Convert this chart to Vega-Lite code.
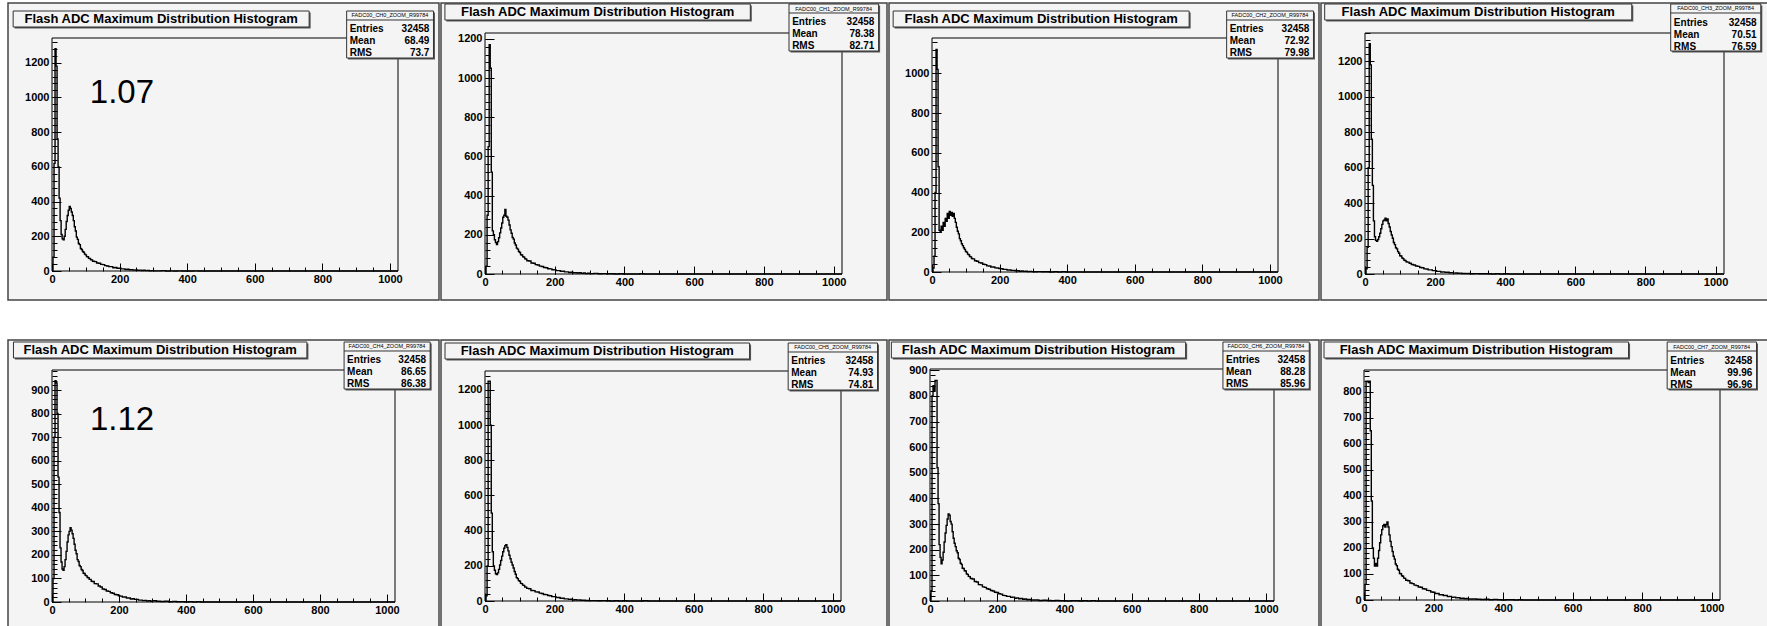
{
"$schema":"https://vega.github.io/schema/vega-lite/v6.json",
"background":"white",
"padding":{"left":7,"top":2,"right":0,"bottom":0},
"config":{"font":"Liberation Sans","view":{"fill":"#f4f4f4","stroke":"#444","strokeWidth":1.5},"axis":{"grid":false,"domain":false,"format":"d","labelFont":"Liberation Sans","labelFontWeight":"bold","labelFontSize":11,"labelColor":"#000","tickColor":"#000","tickWidth":1,"labelOverlap":false},"text":{"font":"Liberation Sans","color":"#000"},"line":{"strokeWidth":1.4}},
"datasets":{
"one":[{}],
"h":[
{"x":0,"a":0,"b":0,"c":0,"d":0,"e":0,"f":0,"g":0,"h":0},
{"x":3,"a":80,"b":40,"c":20,"d":30,"e":100,"f":30,"g":40,"h":60},
{"x":6,"a":620,"b":300,"c":80,"d":150,"e":700,"f":200,"g":800,"h":840},
{"x":9,"a":1280,"b":650,"c":400,"d":600,"e":940,"f":1250,"g":840,"h":840},
{"x":12,"a":1180,"b":1170,"c":1120,"d":1300,"e":930,"f":1250,"g":820,"h":835},
{"x":15,"a":760,"b":1050,"c":1020,"d":1180,"e":800,"f":1000,"g":860,"h":840},
{"x":18,"a":600,"b":520,"c":530,"d":760,"e":530,"f":500,"g":860,"h":650},
{"x":21,"a":420,"b":220,"c":210,"d":500,"e":380,"f":280,"g":520,"h":380},
{"x":24,"a":290,"b":200,"c":200,"d":300,"e":230,"f":200,"g":380,"h":200},
{"x":27,"a":210,"b":175,"c":230,"d":210,"e":170,"f":175,"g":220,"h":160},
{"x":30,"a":185,"b":160,"c":210,"d":190,"e":140,"f":155,"g":170,"h":130},
{"x":33,"a":180,"b":150,"c":250,"d":185,"e":135,"f":150,"g":145,"h":140},
{"x":36,"a":200,"b":165,"c":230,"d":195,"e":150,"f":160,"g":160,"h":130},
{"x":39,"a":240,"b":185,"c":270,"d":210,"e":180,"f":180,"g":190,"h":160},
{"x":42,"a":285,"b":210,"c":255,"d":230,"e":215,"f":205,"g":230,"h":190},
{"x":45,"a":320,"b":235,"c":295,"d":255,"e":255,"f":230,"g":265,"h":220},
{"x":48,"a":350,"b":260,"c":270,"d":280,"e":285,"f":255,"g":295,"h":250},
{"x":51,"a":372,"b":290,"c":305,"d":300,"e":300,"f":280,"g":320,"h":270},
{"x":54,"a":360,"b":300,"c":285,"d":305,"e":315,"f":300,"g":340,"h":285},
{"x":57,"a":340,"b":330,"c":300,"d":315,"e":305,"f":315,"g":335,"h":290},
{"x":60,"a":320,"b":295,"c":280,"d":300,"e":290,"f":320,"g":310,"h":280},
{"x":63,"a":290,"b":290,"c":295,"d":310,"e":270,"f":305,"g":300,"h":290},
{"x":66,"a":255,"b":275,"c":270,"d":285,"e":245,"f":285,"g":270,"h":300},
{"x":69,"a":230,"b":250,"c":250,"d":265,"e":220,"f":260,"g":245,"h":280},
{"x":72,"a":195,"b":225,"c":225,"d":240,"e":205,"f":240,"g":225,"h":250},
{"x":75,"a":182,"b":208,"c":205,"d":220,"e":180,"f":220,"g":212,"h":225},
{"x":78,"a":158,"b":186,"c":192,"d":202,"e":172,"f":205,"g":196,"h":205},
{"x":81,"a":152,"b":178,"c":168,"d":178,"e":155,"f":188,"g":188,"h":186},
{"x":84,"a":130,"b":158,"c":157,"d":166,"e":150,"f":168,"g":167,"h":168},
{"x":87,"a":124,"b":148,"c":142,"d":148,"e":138,"f":152,"g":162,"h":157},
{"x":90,"a":112,"b":132,"c":133,"d":142,"e":134,"f":133,"g":147,"h":138},
{"x":93,"a":108,"b":127,"c":122,"d":126,"e":122,"f":127,"g":143,"h":132},
{"x":96,"a":97,"b":115,"c":114,"d":117,"e":121,"f":116,"g":128,"h":118},
{"x":99,"a":93,"b":110,"c":103,"d":103,"e":113,"f":112,"g":127,"h":114},
{"x":102,"a":83,"b":98,"c":100,"d":102,"e":111,"f":100,"g":118,"h":102},
{"x":105,"a":82,"b":97,"c":90,"d":90,"e":104,"f":99,"g":117,"h":101},
{"x":108,"a":73,"b":88,"c":87,"d":87,"e":103,"f":90,"g":106,"h":93},
{"x":111,"a":72,"b":86,"c":78,"d":78,"e":96,"f":89,"g":104,"h":91},
{"x":114,"a":65,"b":78,"c":76,"d":76,"e":96,"f":80,"g":96,"h":84},
{"x":117,"a":64,"b":76,"c":68,"d":69,"e":88,"f":79,"g":95,"h":83},
{"x":120,"a":56,"b":68,"c":66,"d":67,"e":87,"f":72,"g":88,"h":76},
{"x":126,"a":54,"b":66,"c":57,"d":61,"e":78,"f":70,"g":86,"h":74},
{"x":132,"a":46,"b":56,"c":54,"d":54,"e":77,"f":60,"g":76,"h":65},
{"x":138,"a":45,"b":55,"c":47,"d":51,"e":68,"f":59,"g":74,"h":63},
{"x":144,"a":38,"b":48,"c":45,"d":45,"e":64,"f":52,"g":64,"h":57},
{"x":150,"a":37,"b":46,"c":39,"d":43,"e":55,"f":51,"g":63,"h":55},
{"x":156,"a":31,"b":40,"c":37,"d":37,"e":53,"f":45,"g":55,"h":50},
{"x":162,"a":29,"b":38,"c":31,"d":35,"e":47,"f":43,"g":53,"h":49},
{"x":168,"a":25,"b":33,"c":30,"d":29,"e":45,"f":37,"g":48,"h":43},
{"x":174,"a":25,"b":32,"c":25,"d":28,"e":39,"f":36,"g":46,"h":42},
{"x":180,"a":19,"b":27,"c":25,"d":23,"e":37,"f":31,"g":41,"h":37},
{"x":186,"a":20,"b":26,"c":21,"d":23,"e":32,"f":30,"g":39,"h":36},
{"x":192,"a":16,"b":22,"c":20,"d":19,"e":31,"f":25,"g":34,"h":31},
{"x":198,"a":16,"b":21,"c":17,"d":19,"e":26,"f":25,"g":33,"h":30},
{"x":204,"a":12,"b":17,"c":16,"d":15,"e":25,"f":20,"g":28,"h":25},
{"x":210,"a":12,"b":17,"c":13,"d":15,"e":21,"f":20,"g":27,"h":25},
{"x":216,"a":9,"b":14,"c":13,"d":11,"e":21,"f":16,"g":22,"h":20},
{"x":222,"a":10,"b":14,"c":10,"d":12,"e":17,"f":16,"g":21,"h":20},
{"x":228,"a":7,"b":11,"c":10,"d":9,"e":17,"f":12,"g":18,"h":17},
{"x":234,"a":8,"b":11,"c":8,"d":10,"e":13,"f":12,"g":18,"h":17},
{"x":240,"a":5,"b":8,"c":8,"d":7,"e":14,"f":9,"g":14,"h":13},
{"x":246,"a":6,"b":9,"c":6,"d":8,"e":11,"f":10,"g":15,"h":14},
{"x":252,"a":4,"b":6,"c":6,"d":5,"e":11,"f":6,"g":11,"h":10},
{"x":258,"a":5,"b":7,"c":4,"d":6,"e":8,"f":7,"g":12,"h":11},
{"x":264,"a":3,"b":5,"c":5,"d":4,"e":8,"f":5,"g":9,"h":8},
{"x":270,"a":4,"b":6,"c":3,"d":5,"e":6,"f":6,"g":10,"h":9},
{"x":276,"a":2,"b":3,"c":4,"d":3,"e":7,"f":4,"g":7,"h":6},
{"x":282,"a":3,"b":5,"c":2,"d":3,"e":4,"f":4,"g":8,"h":7},
{"x":288,"a":1,"b":2,"c":3,"d":2,"e":6,"f":3,"g":5,"h":5},
{"x":294,"a":2,"b":4,"c":2,"d":3,"e":3,"f":3,"g":6,"h":6},
{"x":300,"a":1,"b":2,"c":1,"d":1,"e":5,"f":2,"g":4,"h":4},
{"x":312,"a":1,"b":3,"c":2,"d":2,"e":3,"f":2,"g":4,"h":4},
{"x":324,"a":2,"b":1,"c":1,"d":1,"e":2,"f":1,"g":2,"h":3},
{"x":336,"a":0,"b":2,"c":1,"d":1,"e":3,"f":2,"g":3,"h":2},
{"x":348,"a":1,"b":1,"c":0,"d":1,"e":1,"f":1,"g":2,"h":3},
{"x":360,"a":0,"b":1,"c":1,"d":0,"e":2,"f":0,"g":1,"h":1},
{"x":372,"a":1,"b":0,"c":0,"d":1,"e":1,"f":1,"g":2,"h":2},
{"x":384,"a":0,"b":1,"c":1,"d":0,"e":1,"f":0,"g":1,"h":1},
{"x":396,"a":0,"b":0,"c":0,"d":1,"e":0,"f":1,"g":1,"h":0},
{"x":408,"a":0,"b":0,"c":0,"d":0,"e":1,"f":0,"g":0,"h":1},
{"x":420,"a":1,"b":0,"c":0,"d":0,"e":0,"f":0,"g":1,"h":1},
{"x":432,"a":0,"b":0,"c":0,"d":0,"e":1,"f":0,"g":1,"h":0},
{"x":444,"a":0,"b":1,"c":0,"d":0,"e":0,"f":0,"g":0,"h":1},
{"x":456,"a":0,"b":0,"c":0,"d":0,"e":0,"f":1,"g":1,"h":0},
{"x":468,"a":0,"b":0,"c":0,"d":0,"e":0,"f":0,"g":0,"h":0},
{"x":480,"a":0,"b":0,"c":0,"d":0,"e":0,"f":0,"g":1,"h":0},
{"x":492,"a":0,"b":0,"c":0,"d":0,"e":0,"f":0,"g":0,"h":0},
{"x":1024,"a":0,"b":0,"c":0,"d":0,"e":0,"f":0,"g":0,"h":0}
]},
"spacing":38,
"vconcat":[
{"spacing":2,"bounds":"flush","hconcat":[
{"width":431,"height":297,"resolve":{"axis":{"x":"independent","y":"independent"}},"layer":[
{"data":{"name":"one"},"mark":{"type":"rect","filled":false,"stroke":"#000","strokeWidth":1},"encoding":{
"x":{"datum":0,"type":"quantitative","scale":{"domain":[0,1024],"range":[44,390],"nice":false,"zero":false},"axis":{"orient":"bottom","offset":-29,"values":[0,200,400,600,800,1000],"tickSize":-8,"labels":false,"title":null}},
"x2":{"datum":1024},
"y":{"datum":0,"type":"quantitative","scale":{"domain":[0,1342],"range":[268,35],"nice":false,"zero":false},"axis":{"orient":"left","offset":-44,"values":[0,200,400,600,800,1000,1200],"tickSize":-9,"labels":false,"title":null}},
"y2":{"datum":1342}}},
{"data":{"name":"h"},"mark":{"type":"line","interpolate":"step-after","color":"#000"},"encoding":{
"x":{"field":"x","type":"quantitative","scale":{"domain":[0,1024],"range":[44,390],"nice":false,"zero":false},"axis":{"orient":"bottom","offset":-29,"values":[0,200,400,600,800,1000],"ticks":false,"labelPadding":2,"labelFlush":false,"title":null}},
"y":{"field":"a","type":"quantitative","scale":{"domain":[0,1342],"range":[268,35],"nice":false,"zero":false},"axis":{"orient":"left","offset":-44,"values":[0,200,400,600,800,1000,1200],"ticks":false,"labelPadding":3,"title":null}}}},
{"data":{"name":"one"},"mark":{"type":"rect","color":"#555","xOffset":1.5,"x2Offset":1.5,"yOffset":1.5,"y2Offset":1.5},"encoding":{
"x":{"datum":-115,"type":"quantitative","axis":{"orient":"bottom","offset":-29,"values":[0,50,100,150,200,250,300,350,400,450,500,550,600,650,700,750,800,850,900,950,1000],"tickSize":-4,"labels":false,"title":null}},
"x2":{"datum":761},
"y":{"datum":1497.5,"type":"quantitative","axis":{"orient":"left","offset":-44,"values":[0,40,80,120,160,200,240,280,320,360,400,440,480,520,560,600,640,680,720,760,800,840,880,920,960,1000,1040,1080,1120,1160,1200,1240,1280,1320],"tickSize":-5,"labels":false,"title":null}},
"y2":{"datum":1405.4}}},
{"data":{"name":"one"},"mark":{"type":"rect","fill":"#f4f4f4","stroke":"#333","strokeWidth":1},"encoding":{"x":{"datum":-115,"type":"quantitative","axis":null},"x2":{"datum":761},"y":{"datum":1497.5,"type":"quantitative","axis":null},"y2":{"datum":1405.4}}},
{"data":{"name":"one"},"mark":{"type":"text","fontWeight":"bold","fontSize":13},"encoding":{"x":{"datum":323,"type":"quantitative","axis":null},"y":{"datum":1451.4,"type":"quantitative","axis":null},"text":{"value":"Flash ADC Maximum Distribution Histogram"}}},
{"data":{"name":"one"},"mark":{"type":"rect","color":"#555","xOffset":1.5,"x2Offset":1.5,"yOffset":1.5,"y2Offset":1.5},"encoding":{"x":{"datum":872,"type":"quantitative","axis":null},"x2":{"datum":1129},"y":{"datum":1497.5,"type":"quantitative","axis":null},"y2":{"datum":1226.8}}},
{"data":{"name":"one"},"mark":{"type":"rect","fill":"#f4f4f4","stroke":"#333","strokeWidth":1},"encoding":{"x":{"datum":872,"type":"quantitative","axis":null},"x2":{"datum":1129},"y":{"datum":1497.5,"type":"quantitative","axis":null},"y2":{"datum":1226.8}}},
{"data":{"name":"one"},"mark":{"type":"rule","color":"#333","strokeWidth":1},"encoding":{"x":{"datum":872,"type":"quantitative","axis":null},"x2":{"datum":1129},"y":{"datum":1445.7,"type":"quantitative","axis":null}}},
{"data":{"name":"one"},"mark":{"type":"text","fontSize":5.5},"encoding":{"x":{"datum":1000,"type":"quantitative","axis":null},"y":{"datum":1471.6,"type":"quantitative","axis":null},"text":{"value":"FADC00_CH0_ZOOM_R99784"}}},
{"data":{"name":"one"},"mark":{"type":"text","fontWeight":"bold","fontSize":10,"align":"left","baseline":"alphabetic","lineHeight":12},"encoding":{"x":{"datum":881,"type":"quantitative","axis":null},"y":{"datum":1373.7,"type":"quantitative","axis":null},"text":{"value":["Entries","Mean","RMS"]}}},
{"data":{"name":"one"},"mark":{"type":"text","fontWeight":"bold","fontSize":10,"align":"right","baseline":"alphabetic","lineHeight":12},"encoding":{"x":{"datum":1117,"type":"quantitative","axis":null},"y":{"datum":1373.7,"type":"quantitative","axis":null},"text":{"value":["32458","68.49","73.7"]}}},
{"data":{"name":"one"},"mark":{"type":"text","fontSize":33,"align":"center","baseline":"alphabetic"},"encoding":{"x":{"datum":207,"type":"quantitative","axis":null},"y":{"datum":967.6,"type":"quantitative","axis":null},"text":{"value":"1.07"}}}
]},
{"width":446,"height":297,"resolve":{"axis":{"x":"independent","y":"independent"}},"layer":[
{"data":{"name":"one"},"mark":{"type":"rect","filled":false,"stroke":"#000","strokeWidth":1},"encoding":{
"x":{"datum":0,"type":"quantitative","scale":{"domain":[0,1024],"range":[44,401],"nice":false,"zero":false},"axis":{"orient":"bottom","offset":-26,"values":[0,200,400,600,800,1000],"tickSize":-8,"labels":false,"title":null}},
"x2":{"datum":1024},
"y":{"datum":0,"type":"quantitative","scale":{"domain":[0,1230],"range":[271,30],"nice":false,"zero":false},"axis":{"orient":"left","offset":-44,"values":[0,200,400,600,800,1000,1200],"tickSize":-9,"labels":false,"title":null}},
"y2":{"datum":1230}}},
{"data":{"name":"h"},"mark":{"type":"line","interpolate":"step-after","color":"#000"},"encoding":{
"x":{"field":"x","type":"quantitative","scale":{"domain":[0,1024],"range":[44,401],"nice":false,"zero":false},"axis":{"orient":"bottom","offset":-26,"values":[0,200,400,600,800,1000],"ticks":false,"labelPadding":2,"labelFlush":false,"title":null}},
"y":{"field":"b","type":"quantitative","scale":{"domain":[0,1230],"range":[271,30],"nice":false,"zero":false},"axis":{"orient":"left","offset":-44,"values":[0,200,400,600,800,1000,1200],"ticks":false,"labelPadding":3,"title":null}}}},
{"data":{"name":"one"},"mark":{"type":"rect","color":"#555","xOffset":1.5,"x2Offset":1.5,"yOffset":1.5,"y2Offset":1.5},"encoding":{
"x":{"datum":-115,"type":"quantitative","axis":{"orient":"bottom","offset":-26,"values":[0,50,100,150,200,250,300,350,400,450,500,550,600,650,700,750,800,850,900,950,1000],"tickSize":-4,"labels":false,"title":null}},
"x2":{"datum":761},
"y":{"datum":1378.0,"type":"quantitative","axis":{"orient":"left","offset":-44,"values":[0,40,80,120,160,200,240,280,320,360,400,440,480,520,560,600,640,680,720,760,800,840,880,920,960,1000,1040,1080,1120,1160,1200],"tickSize":-5,"labels":false,"title":null}},
"y2":{"datum":1296.3}}},
{"data":{"name":"one"},"mark":{"type":"rect","fill":"#f4f4f4","stroke":"#333","strokeWidth":1},"encoding":{"x":{"datum":-115,"type":"quantitative","axis":null},"x2":{"datum":761},"y":{"datum":1378.0,"type":"quantitative","axis":null},"y2":{"datum":1296.3}}},
{"data":{"name":"one"},"mark":{"type":"text","fontWeight":"bold","fontSize":13},"encoding":{"x":{"datum":323,"type":"quantitative","axis":null},"y":{"datum":1337.2,"type":"quantitative","axis":null},"text":{"value":"Flash ADC Maximum Distribution Histogram"}}},
{"data":{"name":"one"},"mark":{"type":"rect","color":"#555","xOffset":1.5,"x2Offset":1.5,"yOffset":1.5,"y2Offset":1.5},"encoding":{"x":{"datum":872,"type":"quantitative","axis":null},"x2":{"datum":1129},"y":{"datum":1378.0,"type":"quantitative","axis":null},"y2":{"datum":1138.1}}},
{"data":{"name":"one"},"mark":{"type":"rect","fill":"#f4f4f4","stroke":"#333","strokeWidth":1},"encoding":{"x":{"datum":872,"type":"quantitative","axis":null},"x2":{"datum":1129},"y":{"datum":1378.0,"type":"quantitative","axis":null},"y2":{"datum":1138.1}}},
{"data":{"name":"one"},"mark":{"type":"rule","color":"#333","strokeWidth":1},"encoding":{"x":{"datum":872,"type":"quantitative","axis":null},"x2":{"datum":1129},"y":{"datum":1332.1,"type":"quantitative","axis":null}}},
{"data":{"name":"one"},"mark":{"type":"text","fontSize":5.5},"encoding":{"x":{"datum":1000,"type":"quantitative","axis":null},"y":{"datum":1355.0,"type":"quantitative","axis":null},"text":{"value":"FADC00_CH1_ZOOM_R99784"}}},
{"data":{"name":"one"},"mark":{"type":"text","fontWeight":"bold","fontSize":10,"align":"left","baseline":"alphabetic","lineHeight":12},"encoding":{"x":{"datum":881,"type":"quantitative","axis":null},"y":{"datum":1268.3,"type":"quantitative","axis":null},"text":{"value":["Entries","Mean","RMS"]}}},
{"data":{"name":"one"},"mark":{"type":"text","fontWeight":"bold","fontSize":10,"align":"right","baseline":"alphabetic","lineHeight":12},"encoding":{"x":{"datum":1117,"type":"quantitative","axis":null},"y":{"datum":1268.3,"type":"quantitative","axis":null},"text":{"value":["32458","78.38","82.71"]}}}
]},
{"width":430,"height":297,"resolve":{"axis":{"x":"independent","y":"independent"}},"layer":[
{"data":{"name":"one"},"mark":{"type":"rect","filled":false,"stroke":"#000","strokeWidth":1},"encoding":{
"x":{"datum":0,"type":"quantitative","scale":{"domain":[0,1024],"range":[43,389],"nice":false,"zero":false},"axis":{"orient":"bottom","offset":-28,"values":[0,200,400,600,800,1000],"tickSize":-8,"labels":false,"title":null}},
"x2":{"datum":1024},
"y":{"datum":0,"type":"quantitative","scale":{"domain":[0,1178],"range":[269,35],"nice":false,"zero":false},"axis":{"orient":"left","offset":-43,"values":[0,200,400,600,800,1000],"tickSize":-9,"labels":false,"title":null}},
"y2":{"datum":1178}}},
{"data":{"name":"h"},"mark":{"type":"line","interpolate":"step-after","color":"#000"},"encoding":{
"x":{"field":"x","type":"quantitative","scale":{"domain":[0,1024],"range":[43,389],"nice":false,"zero":false},"axis":{"orient":"bottom","offset":-28,"values":[0,200,400,600,800,1000],"ticks":false,"labelPadding":2,"labelFlush":false,"title":null}},
"y":{"field":"c","type":"quantitative","scale":{"domain":[0,1178],"range":[269,35],"nice":false,"zero":false},"axis":{"orient":"left","offset":-43,"values":[0,200,400,600,800,1000],"ticks":false,"labelPadding":3,"title":null}}}},
{"data":{"name":"one"},"mark":{"type":"rect","color":"#555","xOffset":1.5,"x2Offset":1.5,"yOffset":1.5,"y2Offset":1.5},"encoding":{
"x":{"datum":-115,"type":"quantitative","axis":{"orient":"bottom","offset":-28,"values":[0,50,100,150,200,250,300,350,400,450,500,550,600,650,700,750,800,850,900,950,1000],"tickSize":-4,"labels":false,"title":null}},
"x2":{"datum":761},
"y":{"datum":1313.9,"type":"quantitative","axis":{"orient":"left","offset":-43,"values":[0,40,80,120,160,200,240,280,320,360,400,440,480,520,560,600,640,680,720,760,800,840,880,920,960,1000,1040,1080,1120,1160],"tickSize":-5,"labels":false,"title":null}},
"y2":{"datum":1233.4}}},
{"data":{"name":"one"},"mark":{"type":"rect","fill":"#f4f4f4","stroke":"#333","strokeWidth":1},"encoding":{"x":{"datum":-115,"type":"quantitative","axis":null},"x2":{"datum":761},"y":{"datum":1313.9,"type":"quantitative","axis":null},"y2":{"datum":1233.4}}},
{"data":{"name":"one"},"mark":{"type":"text","fontWeight":"bold","fontSize":13},"encoding":{"x":{"datum":323,"type":"quantitative","axis":null},"y":{"datum":1273.6,"type":"quantitative","axis":null},"text":{"value":"Flash ADC Maximum Distribution Histogram"}}},
{"data":{"name":"one"},"mark":{"type":"rect","color":"#555","xOffset":1.5,"x2Offset":1.5,"yOffset":1.5,"y2Offset":1.5},"encoding":{"x":{"datum":872,"type":"quantitative","axis":null},"x2":{"datum":1129},"y":{"datum":1313.9,"type":"quantitative","axis":null},"y2":{"datum":1077.3}}},
{"data":{"name":"one"},"mark":{"type":"rect","fill":"#f4f4f4","stroke":"#333","strokeWidth":1},"encoding":{"x":{"datum":872,"type":"quantitative","axis":null},"x2":{"datum":1129},"y":{"datum":1313.9,"type":"quantitative","axis":null},"y2":{"datum":1077.3}}},
{"data":{"name":"one"},"mark":{"type":"rule","color":"#333","strokeWidth":1},"encoding":{"x":{"datum":872,"type":"quantitative","axis":null},"x2":{"datum":1129},"y":{"datum":1268.6,"type":"quantitative","axis":null}}},
{"data":{"name":"one"},"mark":{"type":"text","fontSize":5.5},"encoding":{"x":{"datum":1000,"type":"quantitative","axis":null},"y":{"datum":1291.3,"type":"quantitative","axis":null},"text":{"value":"FADC00_CH2_ZOOM_R99784"}}},
{"data":{"name":"one"},"mark":{"type":"text","fontWeight":"bold","fontSize":10,"align":"left","baseline":"alphabetic","lineHeight":12},"encoding":{"x":{"datum":881,"type":"quantitative","axis":null},"y":{"datum":1205.7,"type":"quantitative","axis":null},"text":{"value":["Entries","Mean","RMS"]}}},
{"data":{"name":"one"},"mark":{"type":"text","fontWeight":"bold","fontSize":10,"align":"right","baseline":"alphabetic","lineHeight":12},"encoding":{"x":{"datum":1117,"type":"quantitative","axis":null},"y":{"datum":1205.7,"type":"quantitative","axis":null},"text":{"value":["32458","72.92","79.98"]}}}
]},
{"width":447,"height":297,"resolve":{"axis":{"x":"independent","y":"independent"}},"layer":[
{"data":{"name":"one"},"mark":{"type":"rect","filled":false,"stroke":"#000","strokeWidth":1},"encoding":{
"x":{"datum":0,"type":"quantitative","scale":{"domain":[0,1024],"range":[44,403],"nice":false,"zero":false},"axis":{"orient":"bottom","offset":-26,"values":[0,200,400,600,800,1000],"tickSize":-8,"labels":false,"title":null}},
"x2":{"datum":1024},
"y":{"datum":0,"type":"quantitative","scale":{"domain":[0,1360],"range":[271,30],"nice":false,"zero":false},"axis":{"orient":"left","offset":-44,"values":[0,200,400,600,800,1000,1200],"tickSize":-9,"labels":false,"title":null}},
"y2":{"datum":1360}}},
{"data":{"name":"h"},"mark":{"type":"line","interpolate":"step-after","color":"#000"},"encoding":{
"x":{"field":"x","type":"quantitative","scale":{"domain":[0,1024],"range":[44,403],"nice":false,"zero":false},"axis":{"orient":"bottom","offset":-26,"values":[0,200,400,600,800,1000],"ticks":false,"labelPadding":2,"labelFlush":false,"title":null}},
"y":{"field":"d","type":"quantitative","scale":{"domain":[0,1360],"range":[271,30],"nice":false,"zero":false},"axis":{"orient":"left","offset":-44,"values":[0,200,400,600,800,1000,1200],"ticks":false,"labelPadding":3,"title":null}}}},
{"data":{"name":"one"},"mark":{"type":"rect","color":"#555","xOffset":1.5,"x2Offset":1.5,"yOffset":1.5,"y2Offset":1.5},"encoding":{
"x":{"datum":-115,"type":"quantitative","axis":{"orient":"bottom","offset":-26,"values":[0,50,100,150,200,250,300,350,400,450,500,550,600,650,700,750,800,850,900,950,1000],"tickSize":-4,"labels":false,"title":null}},
"x2":{"datum":761},
"y":{"datum":1523.7,"type":"quantitative","axis":{"orient":"left","offset":-44,"values":[0,40,80,120,160,200,240,280,320,360,400,440,480,520,560,600,640,680,720,760,800,840,880,920,960,1000,1040,1080,1120,1160,1200,1240,1280,1320,1360],"tickSize":-5,"labels":false,"title":null}},
"y2":{"datum":1433.4}}},
{"data":{"name":"one"},"mark":{"type":"rect","fill":"#f4f4f4","stroke":"#333","strokeWidth":1},"encoding":{"x":{"datum":-115,"type":"quantitative","axis":null},"x2":{"datum":761},"y":{"datum":1523.7,"type":"quantitative","axis":null},"y2":{"datum":1433.4}}},
{"data":{"name":"one"},"mark":{"type":"text","fontWeight":"bold","fontSize":13},"encoding":{"x":{"datum":323,"type":"quantitative","axis":null},"y":{"datum":1478.5,"type":"quantitative","axis":null},"text":{"value":"Flash ADC Maximum Distribution Histogram"}}},
{"data":{"name":"one"},"mark":{"type":"rect","color":"#555","xOffset":1.5,"x2Offset":1.5,"yOffset":1.5,"y2Offset":1.5},"encoding":{"x":{"datum":872,"type":"quantitative","axis":null},"x2":{"datum":1129},"y":{"datum":1523.7,"type":"quantitative","axis":null},"y2":{"datum":1258.4}}},
{"data":{"name":"one"},"mark":{"type":"rect","fill":"#f4f4f4","stroke":"#333","strokeWidth":1},"encoding":{"x":{"datum":872,"type":"quantitative","axis":null},"x2":{"datum":1129},"y":{"datum":1523.7,"type":"quantitative","axis":null},"y2":{"datum":1258.4}}},
{"data":{"name":"one"},"mark":{"type":"rule","color":"#333","strokeWidth":1},"encoding":{"x":{"datum":872,"type":"quantitative","axis":null},"x2":{"datum":1129},"y":{"datum":1472.9,"type":"quantitative","axis":null}}},
{"data":{"name":"one"},"mark":{"type":"text","fontSize":5.5},"encoding":{"x":{"datum":1000,"type":"quantitative","axis":null},"y":{"datum":1498.3,"type":"quantitative","axis":null},"text":{"value":"FADC00_CH3_ZOOM_R99784"}}},
{"data":{"name":"one"},"mark":{"type":"text","fontWeight":"bold","fontSize":10,"align":"left","baseline":"alphabetic","lineHeight":12},"encoding":{"x":{"datum":881,"type":"quantitative","axis":null},"y":{"datum":1402.3,"type":"quantitative","axis":null},"text":{"value":["Entries","Mean","RMS"]}}},
{"data":{"name":"one"},"mark":{"type":"text","fontWeight":"bold","fontSize":10,"align":"right","baseline":"alphabetic","lineHeight":12},"encoding":{"x":{"datum":1117,"type":"quantitative","axis":null},"y":{"datum":1402.3,"type":"quantitative","axis":null},"text":{"value":["32458","70.51","76.59"]}}}
]}
]},
{"spacing":2,"bounds":"flush","hconcat":[
{"width":431,"height":289,"resolve":{"axis":{"x":"independent","y":"independent"}},"layer":[
{"data":{"name":"one"},"mark":{"type":"rect","filled":false,"stroke":"#000","strokeWidth":1},"encoding":{
"x":{"datum":0,"type":"quantitative","scale":{"domain":[0,1024],"range":[44,387],"nice":false,"zero":false},"axis":{"orient":"bottom","offset":-27,"values":[0,200,400,600,800,1000],"tickSize":-8,"labels":false,"title":null}},
"x2":{"datum":1024},
"y":{"datum":0,"type":"quantitative","scale":{"domain":[0,985],"range":[262,30],"nice":false,"zero":false},"axis":{"orient":"left","offset":-44,"values":[0,100,200,300,400,500,600,700,800,900],"tickSize":-9,"labels":false,"title":null}},
"y2":{"datum":985}}},
{"data":{"name":"h"},"mark":{"type":"line","interpolate":"step-after","color":"#000"},"encoding":{
"x":{"field":"x","type":"quantitative","scale":{"domain":[0,1024],"range":[44,387],"nice":false,"zero":false},"axis":{"orient":"bottom","offset":-27,"values":[0,200,400,600,800,1000],"ticks":false,"labelPadding":2,"labelFlush":false,"title":null}},
"y":{"field":"e","type":"quantitative","scale":{"domain":[0,985],"range":[262,30],"nice":false,"zero":false},"axis":{"orient":"left","offset":-44,"values":[0,100,200,300,400,500,600,700,800,900],"ticks":false,"labelPadding":3,"title":null}}}},
{"data":{"name":"one"},"mark":{"type":"rect","color":"#555","xOffset":1.5,"x2Offset":1.5,"yOffset":1.5,"y2Offset":1.5},"encoding":{
"x":{"datum":-115,"type":"quantitative","axis":{"orient":"bottom","offset":-27,"values":[0,50,100,150,200,250,300,350,400,450,500,550,600,650,700,750,800,850,900,950,1000],"tickSize":-4,"labels":false,"title":null}},
"x2":{"datum":761},
"y":{"datum":1103.9,"type":"quantitative","axis":{"orient":"left","offset":-44,"values":[0,20,40,60,80,100,120,140,160,180,200,220,240,260,280,300,320,340,360,380,400,420,440,460,480,500,520,540,560,580,600,620,640,660,680,700,720,740,760,780,800,820,840,860,880,900,920,940,960,980],"tickSize":-5,"labels":false,"title":null}},
"y2":{"datum":1035.9}}},
{"data":{"name":"one"},"mark":{"type":"rect","fill":"#f4f4f4","stroke":"#333","strokeWidth":1},"encoding":{"x":{"datum":-115,"type":"quantitative","axis":null},"x2":{"datum":761},"y":{"datum":1103.9,"type":"quantitative","axis":null},"y2":{"datum":1035.9}}},
{"data":{"name":"one"},"mark":{"type":"text","fontWeight":"bold","fontSize":13},"encoding":{"x":{"datum":323,"type":"quantitative","axis":null},"y":{"datum":1069.9,"type":"quantitative","axis":null},"text":{"value":"Flash ADC Maximum Distribution Histogram"}}},
{"data":{"name":"one"},"mark":{"type":"rect","color":"#555","xOffset":1.5,"x2Offset":1.5,"yOffset":1.5,"y2Offset":1.5},"encoding":{"x":{"datum":872,"type":"quantitative","axis":null},"x2":{"datum":1129},"y":{"datum":1103.9,"type":"quantitative","axis":null},"y2":{"datum":904.3}}},
{"data":{"name":"one"},"mark":{"type":"rect","fill":"#f4f4f4","stroke":"#333","strokeWidth":1},"encoding":{"x":{"datum":872,"type":"quantitative","axis":null},"x2":{"datum":1129},"y":{"datum":1103.9,"type":"quantitative","axis":null},"y2":{"datum":904.3}}},
{"data":{"name":"one"},"mark":{"type":"rule","color":"#333","strokeWidth":1},"encoding":{"x":{"datum":872,"type":"quantitative","axis":null},"x2":{"datum":1129},"y":{"datum":1065.7,"type":"quantitative","axis":null}}},
{"data":{"name":"one"},"mark":{"type":"text","fontSize":5.5},"encoding":{"x":{"datum":1000,"type":"quantitative","axis":null},"y":{"datum":1084.8,"type":"quantitative","axis":null},"text":{"value":"FADC00_CH4_ZOOM_R99784"}}},
{"data":{"name":"one"},"mark":{"type":"text","fontWeight":"bold","fontSize":10,"align":"left","baseline":"alphabetic","lineHeight":12},"encoding":{"x":{"datum":881,"type":"quantitative","axis":null},"y":{"datum":1012.6,"type":"quantitative","axis":null},"text":{"value":["Entries","Mean","RMS"]}}},
{"data":{"name":"one"},"mark":{"type":"text","fontWeight":"bold","fontSize":10,"align":"right","baseline":"alphabetic","lineHeight":12},"encoding":{"x":{"datum":1117,"type":"quantitative","axis":null},"y":{"datum":1012.6,"type":"quantitative","axis":null},"text":{"value":["32458","86.65","86.38"]}}},
{"data":{"name":"one"},"mark":{"type":"text","fontSize":33,"align":"center","baseline":"alphabetic"},"encoding":{"x":{"datum":209,"type":"quantitative","axis":null},"y":{"datum":730.3,"type":"quantitative","axis":null},"text":{"value":"1.12"}}}
]},
{"width":446,"height":289,"resolve":{"axis":{"x":"independent","y":"independent"}},"layer":[
{"data":{"name":"one"},"mark":{"type":"rect","filled":false,"stroke":"#000","strokeWidth":1},"encoding":{
"x":{"datum":0,"type":"quantitative","scale":{"domain":[0,1024],"range":[44,400],"nice":false,"zero":false},"axis":{"orient":"bottom","offset":-28,"values":[0,200,400,600,800,1000],"tickSize":-8,"labels":false,"title":null}},
"x2":{"datum":1024},
"y":{"datum":0,"type":"quantitative","scale":{"domain":[0,1308],"range":[261,31],"nice":false,"zero":false},"axis":{"orient":"left","offset":-44,"values":[0,200,400,600,800,1000,1200],"tickSize":-9,"labels":false,"title":null}},
"y2":{"datum":1308}}},
{"data":{"name":"h"},"mark":{"type":"line","interpolate":"step-after","color":"#000"},"encoding":{
"x":{"field":"x","type":"quantitative","scale":{"domain":[0,1024],"range":[44,400],"nice":false,"zero":false},"axis":{"orient":"bottom","offset":-28,"values":[0,200,400,600,800,1000],"ticks":false,"labelPadding":2,"labelFlush":false,"title":null}},
"y":{"field":"f","type":"quantitative","scale":{"domain":[0,1308],"range":[261,31],"nice":false,"zero":false},"axis":{"orient":"left","offset":-44,"values":[0,200,400,600,800,1000,1200],"ticks":false,"labelPadding":3,"title":null}}}},
{"data":{"name":"one"},"mark":{"type":"rect","color":"#555","xOffset":1.5,"x2Offset":1.5,"yOffset":1.5,"y2Offset":1.5},"encoding":{
"x":{"datum":-115,"type":"quantitative","axis":{"orient":"bottom","offset":-28,"values":[0,50,100,150,200,250,300,350,400,450,500,550,600,650,700,750,800,850,900,950,1000],"tickSize":-4,"labels":false,"title":null}},
"x2":{"datum":761},
"y":{"datum":1467.2,"type":"quantitative","axis":{"orient":"left","offset":-44,"values":[0,40,80,120,160,200,240,280,320,360,400,440,480,520,560,600,640,680,720,760,800,840,880,920,960,1000,1040,1080,1120,1160,1200,1240,1280],"tickSize":-5,"labels":false,"title":null}},
"y2":{"datum":1376.2}}},
{"data":{"name":"one"},"mark":{"type":"rect","fill":"#f4f4f4","stroke":"#333","strokeWidth":1},"encoding":{"x":{"datum":-115,"type":"quantitative","axis":null},"x2":{"datum":761},"y":{"datum":1467.2,"type":"quantitative","axis":null},"y2":{"datum":1376.2}}},
{"data":{"name":"one"},"mark":{"type":"text","fontWeight":"bold","fontSize":13},"encoding":{"x":{"datum":323,"type":"quantitative","axis":null},"y":{"datum":1421.7,"type":"quantitative","axis":null},"text":{"value":"Flash ADC Maximum Distribution Histogram"}}},
{"data":{"name":"one"},"mark":{"type":"rect","color":"#555","xOffset":1.5,"x2Offset":1.5,"yOffset":1.5,"y2Offset":1.5},"encoding":{"x":{"datum":872,"type":"quantitative","axis":null},"x2":{"datum":1129},"y":{"datum":1467.2,"type":"quantitative","axis":null},"y2":{"datum":1199.9}}},
{"data":{"name":"one"},"mark":{"type":"rect","fill":"#f4f4f4","stroke":"#333","strokeWidth":1},"encoding":{"x":{"datum":872,"type":"quantitative","axis":null},"x2":{"datum":1129},"y":{"datum":1467.2,"type":"quantitative","axis":null},"y2":{"datum":1199.9}}},
{"data":{"name":"one"},"mark":{"type":"rule","color":"#333","strokeWidth":1},"encoding":{"x":{"datum":872,"type":"quantitative","axis":null},"x2":{"datum":1129},"y":{"datum":1416.1,"type":"quantitative","axis":null}}},
{"data":{"name":"one"},"mark":{"type":"text","fontSize":5.5},"encoding":{"x":{"datum":1000,"type":"quantitative","axis":null},"y":{"datum":1441.7,"type":"quantitative","axis":null},"text":{"value":"FADC00_CH5_ZOOM_R99784"}}},
{"data":{"name":"one"},"mark":{"type":"text","fontWeight":"bold","fontSize":10,"align":"left","baseline":"alphabetic","lineHeight":12},"encoding":{"x":{"datum":881,"type":"quantitative","axis":null},"y":{"datum":1345.0,"type":"quantitative","axis":null},"text":{"value":["Entries","Mean","RMS"]}}},
{"data":{"name":"one"},"mark":{"type":"text","fontWeight":"bold","fontSize":10,"align":"right","baseline":"alphabetic","lineHeight":12},"encoding":{"x":{"datum":1117,"type":"quantitative","axis":null},"y":{"datum":1345.0,"type":"quantitative","axis":null},"text":{"value":["32458","74.93","74.81"]}}}
]},
{"width":430,"height":289,"resolve":{"axis":{"x":"independent","y":"independent"}},"layer":[
{"data":{"name":"one"},"mark":{"type":"rect","filled":false,"stroke":"#000","strokeWidth":1},"encoding":{
"x":{"datum":0,"type":"quantitative","scale":{"domain":[0,1024],"range":[41,385],"nice":false,"zero":false},"axis":{"orient":"bottom","offset":-28,"values":[0,200,400,600,800,1000],"tickSize":-8,"labels":false,"title":null}},
"x2":{"datum":1024},
"y":{"datum":0,"type":"quantitative","scale":{"domain":[0,905],"range":[261,29],"nice":false,"zero":false},"axis":{"orient":"left","offset":-41,"values":[0,100,200,300,400,500,600,700,800,900],"tickSize":-9,"labels":false,"title":null}},
"y2":{"datum":905}}},
{"data":{"name":"h"},"mark":{"type":"line","interpolate":"step-after","color":"#000"},"encoding":{
"x":{"field":"x","type":"quantitative","scale":{"domain":[0,1024],"range":[41,385],"nice":false,"zero":false},"axis":{"orient":"bottom","offset":-28,"values":[0,200,400,600,800,1000],"ticks":false,"labelPadding":2,"labelFlush":false,"title":null}},
"y":{"field":"g","type":"quantitative","scale":{"domain":[0,905],"range":[261,29],"nice":false,"zero":false},"axis":{"orient":"left","offset":-41,"values":[0,100,200,300,400,500,600,700,800,900],"ticks":false,"labelPadding":3,"title":null}}}},
{"data":{"name":"one"},"mark":{"type":"rect","color":"#555","xOffset":1.5,"x2Offset":1.5,"yOffset":1.5,"y2Offset":1.5},"encoding":{
"x":{"datum":-115,"type":"quantitative","axis":{"orient":"bottom","offset":-28,"values":[0,50,100,150,200,250,300,350,400,450,500,550,600,650,700,750,800,850,900,950,1000],"tickSize":-4,"labels":false,"title":null}},
"x2":{"datum":761},
"y":{"datum":1010.3,"type":"quantitative","axis":{"orient":"left","offset":-41,"values":[0,20,40,60,80,100,120,140,160,180,200,220,240,260,280,300,320,340,360,380,400,420,440,460,480,500,520,540,560,580,600,620,640,660,680,700,720,740,760,780,800,820,840,860,880,900],"tickSize":-5,"labels":false,"title":null}},
"y2":{"datum":947.9}}},
{"data":{"name":"one"},"mark":{"type":"rect","fill":"#f4f4f4","stroke":"#333","strokeWidth":1},"encoding":{"x":{"datum":-115,"type":"quantitative","axis":null},"x2":{"datum":761},"y":{"datum":1010.3,"type":"quantitative","axis":null},"y2":{"datum":947.9}}},
{"data":{"name":"one"},"mark":{"type":"text","fontWeight":"bold","fontSize":13},"encoding":{"x":{"datum":323,"type":"quantitative","axis":null},"y":{"datum":979.1,"type":"quantitative","axis":null},"text":{"value":"Flash ADC Maximum Distribution Histogram"}}},
{"data":{"name":"one"},"mark":{"type":"rect","color":"#555","xOffset":1.5,"x2Offset":1.5,"yOffset":1.5,"y2Offset":1.5},"encoding":{"x":{"datum":872,"type":"quantitative","axis":null},"x2":{"datum":1129},"y":{"datum":1010.3,"type":"quantitative","axis":null},"y2":{"datum":827.0}}},
{"data":{"name":"one"},"mark":{"type":"rect","fill":"#f4f4f4","stroke":"#333","strokeWidth":1},"encoding":{"x":{"datum":872,"type":"quantitative","axis":null},"x2":{"datum":1129},"y":{"datum":1010.3,"type":"quantitative","axis":null},"y2":{"datum":827.0}}},
{"data":{"name":"one"},"mark":{"type":"rule","color":"#333","strokeWidth":1},"encoding":{"x":{"datum":872,"type":"quantitative","axis":null},"x2":{"datum":1129},"y":{"datum":975.2,"type":"quantitative","axis":null}}},
{"data":{"name":"one"},"mark":{"type":"text","fontSize":5.5},"encoding":{"x":{"datum":1000,"type":"quantitative","axis":null},"y":{"datum":992.8,"type":"quantitative","axis":null},"text":{"value":"FADC00_CH6_ZOOM_R99784"}}},
{"data":{"name":"one"},"mark":{"type":"text","fontWeight":"bold","fontSize":10,"align":"left","baseline":"alphabetic","lineHeight":12},"encoding":{"x":{"datum":881,"type":"quantitative","axis":null},"y":{"datum":926.5,"type":"quantitative","axis":null},"text":{"value":["Entries","Mean","RMS"]}}},
{"data":{"name":"one"},"mark":{"type":"text","fontWeight":"bold","fontSize":10,"align":"right","baseline":"alphabetic","lineHeight":12},"encoding":{"x":{"datum":1117,"type":"quantitative","axis":null},"y":{"datum":926.5,"type":"quantitative","axis":null},"text":{"value":["32458","88.28","85.96"]}}}
]},
{"width":447,"height":289,"resolve":{"axis":{"x":"independent","y":"independent"}},"layer":[
{"data":{"name":"one"},"mark":{"type":"rect","filled":false,"stroke":"#000","strokeWidth":1},"encoding":{
"x":{"datum":0,"type":"quantitative","scale":{"domain":[0,1024],"range":[43,399],"nice":false,"zero":false},"axis":{"orient":"bottom","offset":-29,"values":[0,200,400,600,800,1000],"tickSize":-8,"labels":false,"title":null}},
"x2":{"datum":1024},
"y":{"datum":0,"type":"quantitative","scale":{"domain":[0,883],"range":[260,30],"nice":false,"zero":false},"axis":{"orient":"left","offset":-43,"values":[0,100,200,300,400,500,600,700,800],"tickSize":-9,"labels":false,"title":null}},
"y2":{"datum":883}}},
{"data":{"name":"h"},"mark":{"type":"line","interpolate":"step-after","color":"#000"},"encoding":{
"x":{"field":"x","type":"quantitative","scale":{"domain":[0,1024],"range":[43,399],"nice":false,"zero":false},"axis":{"orient":"bottom","offset":-29,"values":[0,200,400,600,800,1000],"ticks":false,"labelPadding":2,"labelFlush":false,"title":null}},
"y":{"field":"h","type":"quantitative","scale":{"domain":[0,883],"range":[260,30],"nice":false,"zero":false},"axis":{"orient":"left","offset":-43,"values":[0,100,200,300,400,500,600,700,800],"ticks":false,"labelPadding":3,"title":null}}}},
{"data":{"name":"one"},"mark":{"type":"rect","color":"#555","xOffset":1.5,"x2Offset":1.5,"yOffset":1.5,"y2Offset":1.5},"encoding":{
"x":{"datum":-115,"type":"quantitative","axis":{"orient":"bottom","offset":-29,"values":[0,50,100,150,200,250,300,350,400,450,500,550,600,650,700,750,800,850,900,950,1000],"tickSize":-4,"labels":false,"title":null}},
"x2":{"datum":761},
"y":{"datum":990.5,"type":"quantitative","axis":{"orient":"left","offset":-43,"values":[0,20,40,60,80,100,120,140,160,180,200,220,240,260,280,300,320,340,360,380,400,420,440,460,480,500,520,540,560,580,600,620,640,660,680,700,720,740,760,780,800,820,840,860,880],"tickSize":-5,"labels":false,"title":null}},
"y2":{"datum":929.1}}},
{"data":{"name":"one"},"mark":{"type":"rect","fill":"#f4f4f4","stroke":"#333","strokeWidth":1},"encoding":{"x":{"datum":-115,"type":"quantitative","axis":null},"x2":{"datum":761},"y":{"datum":990.5,"type":"quantitative","axis":null},"y2":{"datum":929.1}}},
{"data":{"name":"one"},"mark":{"type":"text","fontWeight":"bold","fontSize":13},"encoding":{"x":{"datum":323,"type":"quantitative","axis":null},"y":{"datum":959.8,"type":"quantitative","axis":null},"text":{"value":"Flash ADC Maximum Distribution Histogram"}}},
{"data":{"name":"one"},"mark":{"type":"rect","color":"#555","xOffset":1.5,"x2Offset":1.5,"yOffset":1.5,"y2Offset":1.5},"encoding":{"x":{"datum":872,"type":"quantitative","axis":null},"x2":{"datum":1129},"y":{"datum":990.5,"type":"quantitative","axis":null},"y2":{"datum":810.1}}},
{"data":{"name":"one"},"mark":{"type":"rect","fill":"#f4f4f4","stroke":"#333","strokeWidth":1},"encoding":{"x":{"datum":872,"type":"quantitative","axis":null},"x2":{"datum":1129},"y":{"datum":990.5,"type":"quantitative","axis":null},"y2":{"datum":810.1}}},
{"data":{"name":"one"},"mark":{"type":"rule","color":"#333","strokeWidth":1},"encoding":{"x":{"datum":872,"type":"quantitative","axis":null},"x2":{"datum":1129},"y":{"datum":955.9,"type":"quantitative","axis":null}}},
{"data":{"name":"one"},"mark":{"type":"text","fontSize":5.5},"encoding":{"x":{"datum":1000,"type":"quantitative","axis":null},"y":{"datum":973.2,"type":"quantitative","axis":null},"text":{"value":"FADC00_CH7_ZOOM_R99784"}}},
{"data":{"name":"one"},"mark":{"type":"text","fontWeight":"bold","fontSize":10,"align":"left","baseline":"alphabetic","lineHeight":12},"encoding":{"x":{"datum":881,"type":"quantitative","axis":null},"y":{"datum":907.9,"type":"quantitative","axis":null},"text":{"value":["Entries","Mean","RMS"]}}},
{"data":{"name":"one"},"mark":{"type":"text","fontWeight":"bold","fontSize":10,"align":"right","baseline":"alphabetic","lineHeight":12},"encoding":{"x":{"datum":1117,"type":"quantitative","axis":null},"y":{"datum":907.9,"type":"quantitative","axis":null},"text":{"value":["32458","99.96","96.96"]}}}
]}
]}
]
}
